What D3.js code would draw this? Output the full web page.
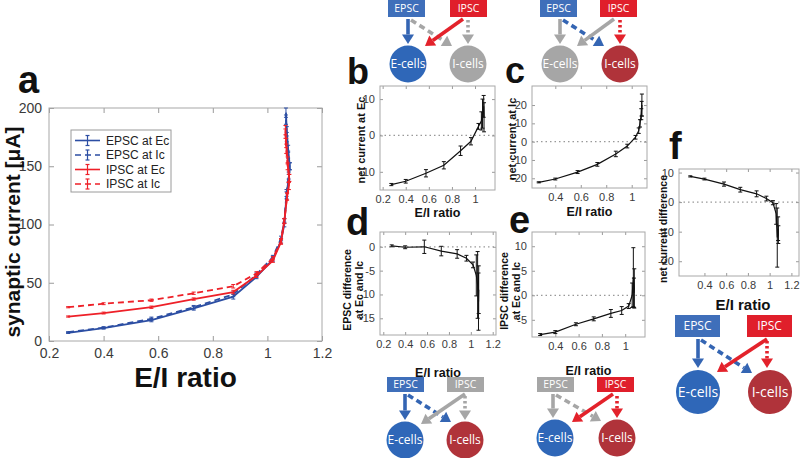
<!DOCTYPE html>
<html><head><meta charset="utf-8">
<script src="https://cdn.jsdelivr.net/npm/d3@7"></script>
<style>body{margin:0;background:#fff}svg{display:block}text{font-family:"Liberation Sans",Arial,sans-serif}</style>
</head><body><svg id="fig" width="800" height="458"></svg>
<script>
// ---------- Panel a data ----------
const aTicksX = [0.2, 0.4, 0.6, 0.8, 1, 1.2];
const aTicksY = [0, 50, 100, 150, 200];
const epscEcX = [0.27,0.40,0.575,0.73,0.875,0.96,1.02,1.05,1.062,1.07,1.078,1.082,1.076,1.071,1.068];
const epscEcY = [7,11,18,28,38,55,70,86,100,125,140,150,165,180,196];
const epscEcE = [0.5,0.8,1.5,1.5,2,1.5,1.5,2,2,3,3,3,3,4,4];
const epscIcX = [0.27,0.40,0.575,0.73,0.875,0.96,1.02,1.05,1.062,1.07,1.078,1.082,1.076,1.071,1.068];
const epscIcY = [7.5,11.5,19,29,40,57,72,88,103,127,142,150,160,175,190];
const epscIcE = [0.5,0.8,1.5,1.5,2,1.5,1.5,2,2,3,3,3,3,4,4];
const ipscEcX = [0.27,0.40,0.575,0.73,0.875,0.96,1.02,1.05,1.062,1.072,1.078,1.08,1.074,1.069,1.066];
const ipscEcY = [21,24,29,36,42,56,69,85,103,124,133,140,155,170,181];
const ipscEcE = [0.5,0.8,1,1,1.5,1.5,1.5,2,2,3,3,3,3,4,4];
const ipscIcX = [0.27,0.40,0.575,0.73,0.875,0.96,1.02,1.05,1.062,1.072,1.078,1.08,1.074,1.069,1.066];
const ipscIcY = [29,32,35,41,47,58,71,86,103,124,133,140,150,165,178];
const ipscIcE = [0.5,0.8,1,1,1.5,1.5,1.5,2,2,3,3,3,3,4,4];
const legendLabels = ["EPSC at Ec", "EPSC at Ic", "IPSC at Ec", "IPSC at Ic"];

// ---------- Panel b: net current at Ec ----------
const bX = [0.275,0.40,0.575,0.73,0.875,0.965,1.03,1.055,1.065,1.075,1.078];
const bY = [-13.5,-12.6,-10.4,-8.2,-4.2,-1.6,2.5,4,6,8,5];
const bE = [0.3,0.5,1,1,1.3,1,0.8,2.5,4,3,4];
// ---------- Panel c: net current at Ic ----------
const cX = [0.27,0.40,0.575,0.73,0.875,0.965,1.03,1.055,1.065,1.075,1.08,1.078];
const cY = [-22.2,-20.4,-16.6,-12.4,-6.7,-2.4,2.4,6,10,15,20,18];
const cE = [0.3,0.5,0.8,1,1.5,1,1,1.5,2,3,6,4];
// ---------- Panel d: EPSC difference ----------
const dX = [0.277,0.40,0.575,0.73,0.875,0.96,1.02,1.05,1.062,1.07,1.072];
const dY = [0.2,-0.1,0,-0.9,-1.5,-2.4,-3.8,-6,-8,-11.5,-9];
const dE = [0.2,0.3,1.4,1,0.9,0.6,0.6,4.3,7,6,5];
// ---------- Panel e: IPSC difference ----------
const eX = [0.27,0.40,0.577,0.73,0.877,0.97,1.03,1.06,1.07,1.078,1.075];
const eY = [-8,-7.5,-5.9,-4.8,-3.7,-3.1,-2.2,0,3.7,1.4,0.5];
const eE = [0.2,0.3,0.3,0.4,0.8,0.8,0.5,2.5,6,4,3];
// ---------- Panel f: net current difference ----------
const fX = [0.27,0.40,0.58,0.73,0.88,0.97,1.03,1.06,1.07,1.08,1.078];
const fY = [8.7,7.8,6.1,4.2,2.8,1.2,-0.2,-4,-12,-11,-9];
const fE = [0.2,0.3,0.7,0.8,1,0.8,0.7,3.5,10,3,4];

const BLUE = "#2c4ea3", RED = "#ee2028";
const svg = d3.select("#fig");

function panel(cfg) {
  const g = svg.append("g");
  const x = d3.scaleLinear().domain(cfg.xd).range([cfg.l, cfg.r]);
  const y = d3.scaleLinear().domain(cfg.yd).range([cfg.b, cfg.t]);
  const ts = cfg.tick || 4;
  const fmt = d => String(d);
  const axes = [
    [d3.axisBottom(x).tickValues(cfg.xt).tickFormat(fmt), `translate(0,${cfg.b})`],
    [d3.axisTop(x).tickValues(cfg.xt).tickFormat(""), `translate(0,${cfg.t})`],
    [d3.axisLeft(y).tickValues(cfg.yt).tickFormat(fmt), `translate(${cfg.l},0)`],
    [d3.axisRight(y).tickValues(cfg.yt).tickFormat(""), `translate(${cfg.r},0)`]
  ];
  axes.forEach(([ax, tr]) => {
    const a = g.append("g").attr("transform", tr)
      .call(ax.tickSizeInner(-ts).tickSizeOuter(0).tickPadding(cfg.pad || 5));
    a.select(".domain").remove();
    a.selectAll("line").attr("stroke", "#9a9a9a");
    a.selectAll("text").attr("fill", "#3a3a3a").style("font-size", cfg.fs + "px")
      .style("font-family", '"Liberation Sans",Arial,sans-serif');
  });
  g.append("rect").attr("x", cfg.l).attr("y", cfg.t).attr("width", cfg.r - cfg.l).attr("height", cfg.b - cfg.t)
    .attr("fill", "none").attr("stroke", "#a8a8a8").attr("stroke-width", 1);
  if (cfg.zero) {
    g.append("line").attr("x1", cfg.l).attr("x2", cfg.r).attr("y1", y(0)).attr("y2", y(0))
      .attr("stroke", "#999").attr("stroke-width", 1.3).attr("stroke-dasharray", "1.5,3");
  }
  cfg.series.forEach(s => {
    const pts = s.x.map((v, i) => [v, s.y[i], s.e[i]]);
    g.append("path").datum(pts)
      .attr("d", d3.line().x(d => x(d[0])).y(d => y(d[1])))
      .attr("fill", "none").attr("stroke", s.color).attr("stroke-width", s.w || 1.2)
      .attr("stroke-dasharray", s.dash || null);
    const eb = g.append("g").attr("stroke", s.color).attr("stroke-width", s.ew || 1);
    pts.forEach(d => {
      eb.append("line").attr("x1", x(d[0])).attr("x2", x(d[0])).attr("y1", y(d[1] - d[2])).attr("y2", y(d[1] + d[2]));
      [d[1] - d[2], d[1] + d[2]].forEach(v => eb.append("line")
        .attr("x1", x(d[0]) - 2).attr("x2", x(d[0]) + 2).attr("y1", y(v)).attr("y2", y(v)));
    });
  });
  if (cfg.xlabel) {
    g.append("text").attr("x", (cfg.l + cfg.r) / 2 + (cfg.xlabel.dx || 0)).attr("y", cfg.xlabel.y)
      .attr("text-anchor", "middle").attr("font-weight", "bold").style("font-size", cfg.xlabel.size + "px")
      .attr("fill", "#111").text(cfg.xlabel.text);
  }
  if (cfg.ylabel) {
    const cy = cfg.ylabel.cy || (cfg.t + cfg.b) / 2;
    cfg.ylabel.lines.forEach((t, i) => {
      g.append("text").attr("transform", `translate(${cfg.ylabel.xs[i]},${cy}) rotate(-90)`)
        .attr("text-anchor", "middle").attr("font-weight", "bold").style("font-size", cfg.ylabel.size + "px")
        .attr("fill", "#111").text(t);
    });
  }
  return {x, y, g};
}

// ---------- Panel a ----------
panel({
  l: 49, r: 322, t: 108, b: 341, xd: [0.2, 1.2], yd: [0, 200], xt: aTicksX, yt: aTicksY, fs: 14, tick: 5, pad: 7,
  series: [
    {x: epscEcX, y: epscEcY, e: epscEcE, color: BLUE, w: 1.8},
    {x: epscIcX, y: epscIcY, e: epscIcE, color: BLUE, w: 1.8, dash: "6,4"},
    {x: ipscEcX, y: ipscEcY, e: ipscEcE, color: RED, w: 1.8},
    {x: ipscIcX, y: ipscIcY, e: ipscIcE, color: RED, w: 1.8, dash: "6,4"}
  ],
  xlabel: {text: "E/I ratio", y: 387, size: 28},
  ylabel: {lines: ["synaptic current [μA]"], xs: [20], size: 21, cy: 232}
});
// legend
const lg = svg.append("g");
lg.append("rect").attr("x", 71).attr("y", 130).attr("width", 100).attr("height", 62)
  .attr("fill", "#fff").attr("stroke", "#9a9a9a");
const lgColors = [BLUE, BLUE, RED, RED], lgDash = [null, "6,4", null, "6,4"];
legendLabels.forEach((t, i) => {
  const yy = 140.5 + i * 14.5;
  lg.append("line").attr("x1", 75).attr("x2", 100).attr("y1", yy).attr("y2", yy)
    .attr("stroke", lgColors[i]).attr("stroke-width", 1.6).attr("stroke-dasharray", lgDash[i]);
  lg.append("line").attr("x1", 87.5).attr("x2", 87.5).attr("y1", yy - 5).attr("y2", yy + 5)
    .attr("stroke", lgColors[i]).attr("stroke-width", 1.2);
  [yy - 5, yy + 5].forEach(v => lg.append("line").attr("x1", 85.5).attr("x2", 89.5).attr("y1", v).attr("y2", v)
    .attr("stroke", lgColors[i]).attr("stroke-width", 1.2));
  lg.append("text").attr("x", 106).attr("y", yy + 4.2).style("font-size", "12px").attr("fill", "#222").text(t);
});

// ---------- small panels ----------
const small = [
  {l: 380, r: 495, t: 86, b: 190, xd: [0.177, 1.173], yd: [-15, 13.6], xt: [0.2, 0.4, 0.6, 0.8, 1], yt: [-10, 0, 10],
   s: [bX, bY, bE], xl: 217, yl: {lines: ["net current at Ec"], xs: [365], cy: 140, size: 11}},
  {l: 532, r: 647, t: 86, b: 188, xd: [0.217, 1.12], yd: [-25.3, 30.4], xt: [0.4, 0.6, 0.8, 1], yt: [-20, -10, 0, 10, 20],
   s: [cX, cY, cE], xl: 216, yl: {lines: ["net current at Ic"], xs: [516], cy: 139, size: 11}},
  {l: 380, r: 496, t: 232, b: 335, xd: [0.17, 1.23], yd: [-18.5, 3.1], xt: [0.2, 0.4, 0.6, 0.8, 1, 1.2], yt: [-15, -10, -5, 0],
   s: [dX, dY, dE], xl: 377, yl: {lines: ["EPSC difference", "at Ec and Ic"], xs: [351, 363], cy: 290, size: 10.5}},
  {l: 532, r: 645, t: 232, b: 337, xd: [0.2, 1.17], yd: [-8.5, 12.9], xt: [0.4, 0.6, 0.8, 1], yt: [-5, 0, 5, 10],
   s: [eX, eY, eE], xl: 375, yl: {lines: ["IPSC difference", "at Ec and Ic"], xs: [508, 520], cy: 291, size: 10.5}}
];
small.forEach(p => panel({
  l: p.l, r: p.r, t: p.t, b: p.b, xd: p.xd, yd: p.yd, xt: p.xt, yt: p.yt, fs: 11, tick: 3, pad: 5, zero: true,
  series: [{x: p.s[0], y: p.s[1], e: p.s[2], color: "#111", w: 1.2, ew: 1}],
  xlabel: {text: "E/I ratio", y: p.xl, size: 12.5},
  ylabel: {lines: p.yl.lines, xs: p.yl.xs, size: p.yl.size, cy: p.yl.cy}
}));
panel({
  l: 679, r: 799, t: 169, b: 276, xd: [0.166, 1.27], yd: [-25, 11.2], xt: [0.4, 0.6, 0.8, 1, 1.2], yt: [-20, -10, 0, 10],
  fs: 11, tick: 3, pad: 5, zero: true,
  series: [{x: fX, y: fY, e: fE, color: "#111", w: 1.2, ew: 1}],
  xlabel: {text: "E/I ratio", y: 310, size: 15, dx: 4},
  ylabel: {lines: ["net current difference"], xs: [667], size: 10.5, cy: 229}
});

// ---------- panel letters ----------
[["a", 18, 93, 38], ["b", 347, 84, 36], ["c", 505, 83, 36], ["d", 346, 235, 38], ["e", 509, 233, 38], ["f", 669, 159, 38]]
  .forEach(([t, x, y, s]) => svg.append("text").attr("x", x).attr("y", y).attr("font-weight", "bold")
    .style("font-size", s + "px").attr("fill", "#111").text(t));

// ---------- circuit diagrams ----------
const C = {epsc: "#3f6fba", ipsc: "#e01f2b", ecell: "#2f67b8", icell: "#b0333a", gray: "#a6a6a6",
  ablue: "#3465b3", ared: "#e3222b"};
function arrow(x1, y1, x2, y2, color, style, w) {
  w = w || 3.6;
  const ang = Math.atan2(y2 - y1, x2 - x1), hl = 9.5, hw = 6;
  const bx = x2 - hl * Math.cos(ang), by = y2 - hl * Math.sin(ang);
  svg.append("line").attr("x1", x1).attr("y1", y1).attr("x2", bx).attr("y2", by)
    .attr("stroke", color).attr("stroke-width", w)
    .attr("stroke-dasharray", style === "dash" ? "6,4" : style === "dot" ? "2.5,2.5" : null);
  const px = -Math.sin(ang), py = Math.cos(ang);
  svg.append("path").attr("d", `M${x2},${y2}L${bx + px * hw},${by + py * hw}L${bx - px * hw},${by - py * hw}Z`)
    .attr("fill", color);
}
function diagram(o) {
  const fsBox = o.fsBox || 10.5, fsCell = o.fsCell || 12;
  [[o.ex, "EPSC", o.eCol], [o.ix, "IPSC", o.iCol]].forEach(([x, t, col]) => {
    svg.append("rect").attr("x", x).attr("y", o.by).attr("width", o.bw).attr("height", o.bh).attr("fill", col);
    svg.append("text").attr("x", x + o.bw / 2).attr("y", o.by + o.bh / 2 + fsBox * 0.36).attr("text-anchor", "middle")
      .attr("fill", "#fff").style("font-size", fsBox + "px").style("font-family", '"Open Sans",sans-serif').text(t);
  });
  [[o.ec, "E-cells", o.ecCol], [o.ic, "I-cells", o.icCol]].forEach(([cx, t, col]) => {
    svg.append("circle").attr("cx", cx).attr("cy", o.cy).attr("r", o.r).attr("fill", col);
    svg.append("text").attr("x", cx).attr("y", o.cy + fsCell * 0.36).attr("text-anchor", "middle")
      .attr("fill", "#fff").style("font-size", fsCell + "px").style("font-family", '"Open Sans",sans-serif').text(t);
  });
  o.arrows.forEach(a => arrow(...a));
}
// b (top left)
diagram({ex: 388, ix: 450, bw: 37, bh: 17, by: 0, eCol: C.epsc, iCol: C.ipsc, ec: 408, ic: 468, cy: 64, r: 18.5,
  ecCol: C.ecell, icCol: C.gray,
  arrows: [[408, 19, 408, 44, C.ablue, "solid"], [411, 20, 452, 46, C.gray, "dash"],
    [463, 19, 425, 46, C.ared, "solid"], [468, 20, 468, 44, C.gray, "dot"]]});
// c (top right)
diagram({ex: 540, ix: 600, bw: 37, bh: 17, by: 0, eCol: C.epsc, iCol: C.ipsc, ec: 560, ic: 620, cy: 64, r: 18.5,
  ecCol: C.gray, icCol: C.icell,
  arrows: [[560, 19, 560, 44, C.gray, "solid"], [563, 20, 604, 46, C.ablue, "dash"],
    [614, 19, 577, 46, C.gray, "solid"], [620, 20, 620, 44, C.ared, "dot"]]});
// d (bottom left)
diagram({ex: 387, ix: 447, bw: 37, bh: 15, by: 377, eCol: C.epsc, iCol: C.gray, ec: 405, ic: 465, cy: 440, r: 18.5,
  ecCol: C.ecell, icCol: C.icell,
  arrows: [[405, 394, 405, 420, C.ablue, "solid"], [408, 395, 451, 422, C.ablue, "dash"],
    [465, 394, 421, 424, C.gray, "solid"], [465, 396, 465, 420, C.gray, "dot"]]});
// e (bottom right)
diagram({ex: 537, ix: 597, bw: 37, bh: 15, by: 377, eCol: C.gray, iCol: C.ipsc, ec: 555, ic: 617, cy: 438, r: 18.5,
  ecCol: C.ecell, icCol: C.icell,
  arrows: [[553, 394, 553, 418, C.gray, "solid"], [556, 395, 601, 421, C.gray, "dash"],
    [613, 394, 572, 422, C.ared, "solid"], [617, 396, 617, 418, C.ared, "dot"]]});
// f
diagram({ex: 675, ix: 747, bw: 45, bh: 22, by: 315, eCol: C.epsc, iCol: C.ipsc, ec: 698, ic: 770, cy: 392, r: 22,
  ecCol: C.ecell, icCol: C.icell, fsBox: 12, fsCell: 14,
  arrows: [[698, 339, 698, 368, C.ablue, "solid"], [701, 340, 752, 373, C.ablue, "dash"],
    [767, 339, 717, 372, C.ared, "solid"], [767, 341, 767, 368, C.ared, "dot"]]});
</script></body></html>
